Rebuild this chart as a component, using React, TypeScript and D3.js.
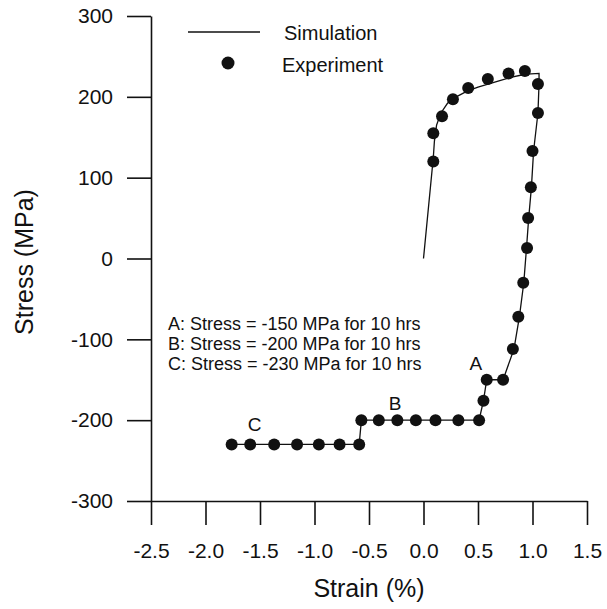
import React, { useEffect, useRef } from "react";
import * as d3 from "d3";

// Strain (%) / stress (MPa) pairs for the simulated response
const simStrain = [
  0, 0.09, 0.1, 0.12, 0.16, 0.22, 0.3, 0.4, 0.5, 0.6, 0.7, 0.8, 0.9, 0.95, 1.06,
  1.06, 1.05, 1.01, 0.99, 0.965, 0.945, 0.92, 0.88, 0.83, 0.73, 0.58, 0.55, 0.51,
  -0.57, -0.59, -1.76,
];
const simStress = [
  0, 125, 145, 165, 180, 192, 200, 207, 212, 216, 220, 224, 227, 228, 229,
  216, 180, 133, 88, 50, 13, -30, -72, -112, -150, -150, -176, -200,
  -200, -230, -230,
];

// Measured points
const expStrain = [
  0.09, 0.09, 0.17, 0.27, 0.41, 0.59, 0.78, 0.93,
  1.05, 1.05, 1.0, 0.985, 0.96, 0.95, 0.915, 0.87, 0.82, 0.73, 0.58, 0.55, 0.51,
  0.32, 0.11, -0.07, -0.24, -0.41, -0.57,
  -0.59, -0.77, -0.96, -1.16, -1.37, -1.59, -1.76,
];
const expStress = [
  120, 155, 176, 197, 211, 222, 229, 232,
  216, 180, 133, 88, 50, 13, -30, -72, -112, -150, -150, -176, -200,
  -200, -200, -200, -200, -200, -200,
  -230, -230, -230, -230, -230, -230, -230,
];

const xTicks = [-2.5, -2.0, -1.5, -1.0, -0.5, 0.0, 0.5, 1.0, 1.5];
const yTicks = [-300, -200, -100, 0, 100, 200, 300];

const notes = [
  "A: Stress = -150 MPa for 10 hrs",
  "B: Stress = -200 MPa for 10 hrs",
  "C: Stress = -230 MPa for 10 hrs",
];
const stageLabels = ["A", "B", "C"];
const stageStrain = [0.48, -0.26, -1.55];
const stageStress = [-138, -188, -213];

const FONT = "'Liberation Sans', Arial, Helvetica, sans-serif";
const W = 607;
const H = 609;

export default function App() {
  const xAxisRef = useRef<SVGGElement>(null);
  const yAxisRef = useRef<SVGGElement>(null);

  const x = d3.scaleLinear().domain([-2.5, 1.5]).range([151, 587]);
  const y = d3.scaleLinear().domain([-300, 300]).range([501, 16]);

  useEffect(() => {
    const xa = d3
      .axisBottom(x)
      .tickValues(xTicks)
      .tickSize(24)
      .tickSizeOuter(0)
      .tickPadding(18)
      .tickFormat((d) => (d as number).toFixed(1));
    const ya = d3
      .axisLeft(y)
      .tickValues(yTicks)
      .tickSize(24)
      .tickSizeOuter(0)
      .tickPadding(14)
      .tickFormat((d) => String(d));
    const gx = d3.select(xAxisRef.current!);
    gx.call(xa as any);
    const gy = d3.select(yAxisRef.current!);
    gy.call(ya as any);
    [gx, gy].forEach((g) => {
      g.selectAll("path.domain").attr("stroke", "#111").attr("stroke-width", 1.6);
      g.selectAll(".tick line").attr("stroke", "#111").attr("stroke-width", 1.6);
      g.selectAll(".tick text")
        .attr("fill", "#111")
        .style("font-family", FONT)
        .style("font-size", "21px");
    });
  }, []);

  const simPts: [number, number][] = simStrain.map((s, i) => [s, simStress[i]]);
  const line = d3
    .line<[number, number]>()
    .x((d) => x(d[0]))
    .y((d) => y(d[1]));

  return (
    <svg
      width={W}
      height={H}
      style={{ position: "absolute", left: 0, top: 0, background: "#fff" }}
      fontFamily={FONT}
    >
      <rect width={W} height={H} fill="#fff" />
      <g ref={xAxisRef} transform={`translate(0,${y(-300)})`} />
      <g ref={yAxisRef} transform={`translate(${x(-2.5)},0)`} />

      <path d={line(simPts) || ""} fill="none" stroke="#111" strokeWidth={1.3} />
      {expStrain.map((s, i) => (
        <circle key={i} cx={x(s)} cy={y(expStress[i])} r={6} fill="#111" />
      ))}

      {/* legend */}
      <line x1={188} x2={260} y1={32} y2={32} stroke="#111" strokeWidth={1.3} />
      <text x={284} y={40} fontSize={20} fill="#111">Simulation</text>
      <circle cx={228} cy={63} r={6.5} fill="#111" />
      <text x={282} y={72} fontSize={20} fill="#111">Experiment</text>

      {/* hold-stage notes */}
      {notes.map((t, i) => (
        <text key={t} x={168} y={330 + i * 20} fontSize={18} fill="#111">
          {t}
        </text>
      ))}
      {stageLabels.map((t, i) => (
        <text
          key={t}
          x={x(stageStrain[i])}
          y={y(stageStress[i])}
          fontSize={19}
          fill="#111"
          textAnchor="middle"
        >
          {t}
        </text>
      ))}

      {/* axis titles */}
      <text x={369} y={597} fontSize={25} textAnchor="middle" fill="#111">
        Strain (%)
      </text>
      <text
        transform="translate(33,262) rotate(-90)"
        fontSize={25}
        textAnchor="middle"
        fill="#111"
      >
        Stress (MPa)
      </text>
    </svg>
  );
}
